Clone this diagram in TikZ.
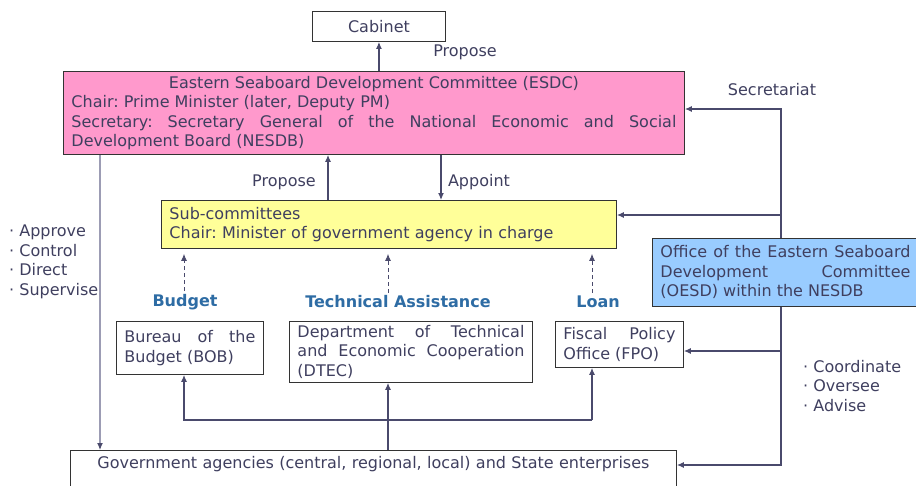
\documentclass[tikz,border=0pt]{standalone}
\usepackage{fontspec}
\setmainfont{DejaVu Sans}
\usetikzlibrary{arrows.meta}
\definecolor{ink}{HTML}{3F3F5F}
\definecolor{wire}{HTML}{4A4A6C}
\definecolor{wirelight}{HTML}{9C9CB4}
\definecolor{esdcpink}{HTML}{FF99CC}
\definecolor{subyellow}{HTML}{FFFF99}
\definecolor{oesdblue}{HTML}{99CCFF}
\definecolor{fundblue}{HTML}{2E6CA4}
\setlength{\parindent}{0pt}
\frenchspacing
\newcommand{\bodyfont}{\fontsize{16}{19.5}\selectfont}
\tikzset{
  box/.style={draw=black!80, line width=0.9pt, anchor=north west, inner xsep=8pt,
    inner ysep=3pt, text=ink, font=\bodyfont, align=justify},
  arr/.style={draw=wire, line width=1.1pt, -{Latex[length=7pt,width=6pt,color=wire]}},
  lbl/.style={text=ink, font=\bodyfont, inner sep=0pt},
  fund/.style={text=fundblue, font=\bodyfont\bfseries, inner sep=0pt},
}
\begin{document}
\begin{tikzpicture}[x=1pt,y=-1pt]
      \useasboundingbox (0,0) rectangle (916,485);
      \clip (0,0) rectangle (916,485);
      % boxes
      \node[box, align=center, minimum width=133pt, minimum height=30pt] (cab) at (312,11) {Cabinet};
      \node[box, fill=esdcpink, text width=605pt, minimum height=83pt] (esdc) at (63,71)
        {{\centering Eastern Seaboard Development Committee (ESDC)\par}Chair: Prime Minister (later, Deputy PM)\par
         Secretary: Secretary General of the National Economic and Social\linebreak Development Board (NESDB)};
      \node[box, fill=subyellow, text width=439pt, minimum height=48pt, align=left] (sub) at (161,200)
        {Sub-committees\\Chair: Minister of government agency in charge};
      \node[box, fill=oesdblue, text width=250pt, minimum height=68pt] (oesd) at (652,238)
        {Office of the Eastern Seaboard\linebreak Development Committee\linebreak (OESD) within the NESDB};
      \node[box, text width=131pt, minimum height=53pt] (bob) at (116,321) {Bureau of the\linebreak Budget (BOB)};
      \node[box, text width=227pt, minimum height=61pt] (dtec) at (289,321)
        {Department of Technical\linebreak and Economic Cooperation\linebreak (DTEC)};
      \node[box, text width=112pt, minimum height=46pt] (fpo) at (555,321) {Fiscal Policy\linebreak Office (FPO)};
      \node[box, text width=590pt, align=center, text height=15pt, text depth=30pt] (govt) at (70,450)
        {Government agencies (central, regional, local) and State enterprises};
      % labels
      \node[lbl] (propcab) at (465,52) {Propose};
      \node[lbl] (secr) at (772,90) {Secretariat};
      \node[lbl] (propsub) at (284,182) {Propose};
      \node[lbl] (appt) at (479,182) {Appoint};
      \node[lbl, anchor=north west, align=left] (acts) at (9,225) {· Approve\\· Control\\· Direct\\· Supervise};
      \node[lbl, anchor=north west, align=left] (duties) at (803,360) {· Coordinate\\· Oversee\\· Advise};
      \node[fund] (fbud) at (185,302) {Budget};
      \node[fund] (ftech) at (398,302) {Technical Assistance};
      \node[fund] (floan) at (598,302) {Loan};
      % junctions
      \coordinate (xa) at (100,0);
      \coordinate (xp) at (328,0);
      \coordinate (xap) at (441,0);
      \coordinate (xb) at (184,0);
      \coordinate (xt) at (388,0);
      \coordinate (xl) at (592,0);
      \coordinate (jsec) at (781,109);
      \coordinate (jsub) at (781,215);
      \coordinate (jfpo) at (781,351);
      \coordinate (jgov) at (781,465);
      \coordinate (jbob) at (184,420);
      \coordinate (jloan) at (592,420);
      % connectors
      \draw[arr] (esdc.north -| cab.south) -- (cab.south);
      \draw[arr] (sub.north -| xp) -- (esdc.south -| xp);
      \draw[arr] (esdc.south -| xap) -- (sub.north -| xap);
      \draw[arr, draw=wirelight] (esdc.south -| xa) -- (govt.north -| xa);
      \draw[arr] (oesd.north -| jsec) -- (jsec) -- (jsec -| esdc.east);
      \draw[arr] (jsub) -- (jsub -| sub.east);
      \draw[arr] (oesd.south -| jgov) -- (jgov) -- (jgov -| govt.east);
      \draw[arr] (jfpo) -- (jfpo -| fpo.east);
      \begin{scope}[line width=0.8pt, dash pattern=on 4pt off 3pt, shorten <=3pt, shorten >=5pt]
        \draw[arr, line width=0.8pt] (fbud.north -| xb) -- (sub.south -| xb);
        \draw[arr, line width=0.8pt] (ftech.north -| xt) -- (sub.south -| xt);
        \draw[arr, line width=0.8pt] (floan.north -| xl) -- (sub.south -| xl);
      \end{scope}
      \draw[arr] (govt.north -| xt) -- (dtec.south -| xt);
      \draw[arr] (jloan) -- (jbob) -- (jbob |- bob.south);
      \draw[arr] (jloan) -- (jloan |- fpo.south);
    \end{tikzpicture}
\end{document}
